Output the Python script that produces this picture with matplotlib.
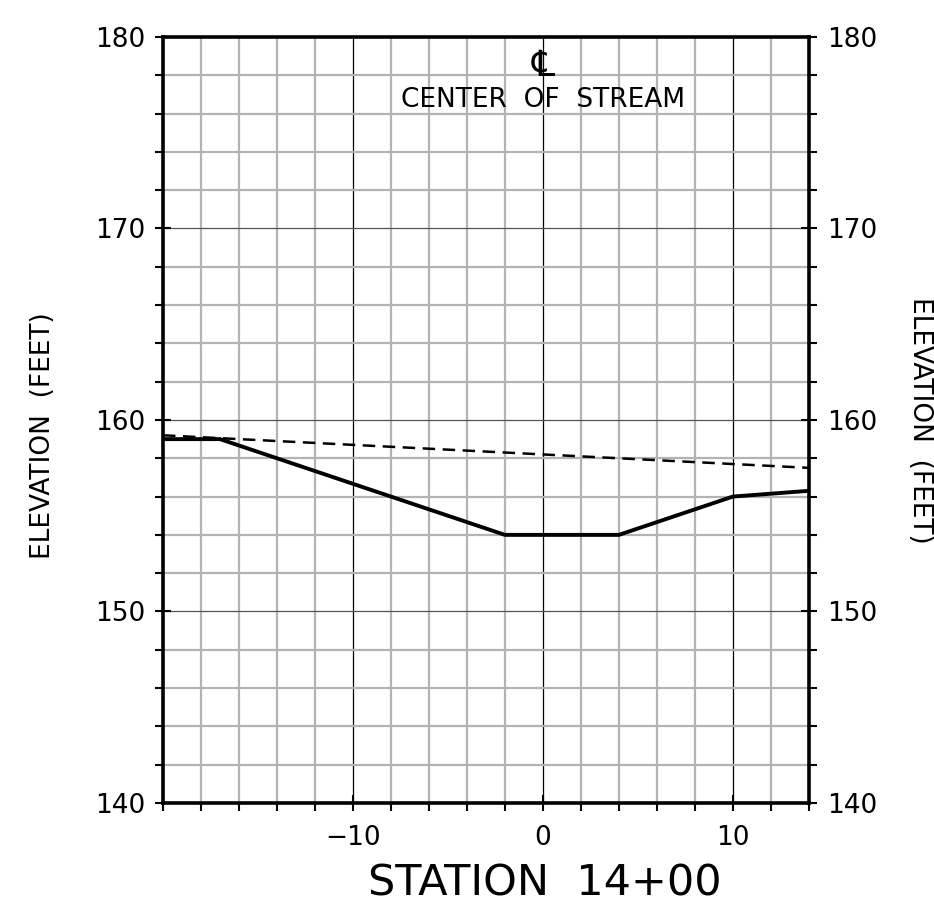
import matplotlib.pyplot as plt
from matplotlib.ticker import MultipleLocator

# data
ground_x = [-20, -17, -2, 4, 10, 14]
ground_y = [159.0, 159.0, 154.0, 154.0, 156.0, 156.3]
water_x = [-20, 14]
water_y = [159.2, 157.5]
x_ticks = [-10, 0, 10]
y_ticks = [140, 150, 160, 170, 180]

plt.rcParams["font.family"] = ["DejaVu Sans"]

fig = plt.figure(figsize=(9.34, 9.23), dpi=100)
ax = fig.add_axes([0.1745, 0.13, 0.6915, 0.83])

ax.set_xlim(-20, 14)
ax.set_ylim(140, 180)

# grid: grey every 2, darker lines at the 10s
for gx in range(-18, 14, 2):
    if gx % 10 == 0:
        ax.axvline(gx, color="black", lw=0.9, zorder=1)
    else:
        ax.axvline(gx, color="#b3b3b3", lw=1.6, zorder=1)
for gy in range(142, 180, 2):
    if gy % 10 == 0:
        ax.axhline(gy, color="#555555", lw=0.9, zorder=1)
    else:
        ax.axhline(gy, color="#b3b3b3", lw=1.6, zorder=1)

ax.plot(water_x, water_y, color="black", lw=1.8, ls=(0, (5, 3)), zorder=3)
ax.plot(ground_x, ground_y, color="black", lw=2.8, zorder=3,
        solid_joinstyle="miter")

ax.text(0, 178.5, "\u2104", ha="center", va="center", fontsize=26)
ax.text(0, 176.7, "CENTER  OF  STREAM", ha="center", va="center",
        fontsize=19)

ax.set_xticks(x_ticks)
ax.set_xticklabels(["\u221210", "0", "10"])
ax.set_yticks(y_ticks)
ax.xaxis.set_minor_locator(MultipleLocator(2))
ax.yaxis.set_minor_locator(MultipleLocator(2))
ax.tick_params(which="major", direction="inout", length=12, width=1.5,
               labelsize=19, pad=7, left=True, right=True,
               labelleft=True, labelright=True)
ax.tick_params(axis="x", which="major", pad=10)
ax.tick_params(which="minor", direction="out", length=6, width=1.5,
               left=True, right=True)

for sp in ax.spines.values():
    sp.set_linewidth(2.6)
    sp.set_zorder(5)

ax.set_xlabel("STATION  14+00", fontsize=31)
ax.xaxis.set_label_coords(0.591, -0.078)
ax.set_ylabel("ELEVATION  (FEET)", fontsize=19)
ax.yaxis.set_label_coords(-0.165, 0.48)
fig.text(0.985, 0.545, "ELEVATION  (FEET)", rotation=-90, ha="center",
         va="center", fontsize=19)

fig.savefig("out.png", dpi=100)
